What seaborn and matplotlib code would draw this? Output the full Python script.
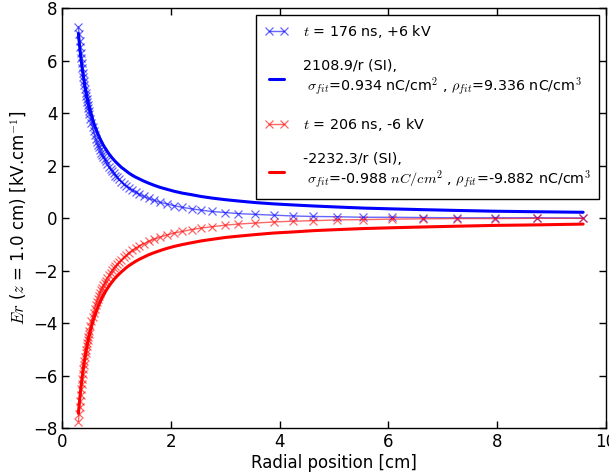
import pandas as pd
import seaborn as sns
import matplotlib.pyplot as plt

radius = [0.30, 0.31, 0.32, 0.33, 0.34, 0.35, 0.36, 0.37, 0.38, 0.39, 0.40,
          0.41, 0.42, 0.43, 0.44, 0.45, 0.46, 0.47, 0.48, 0.49, 0.50,
          0.52, 0.54, 0.56, 0.58, 0.60, 0.62, 0.64, 0.66, 0.68, 0.70,
          0.72, 0.74, 0.76, 0.78, 0.80, 0.83, 0.86, 0.89, 0.92, 0.95,
          0.98, 1.01, 1.05, 1.09, 1.13, 1.18, 1.23, 1.29, 1.35, 1.42,
          1.50, 1.59, 1.69, 1.80, 1.92, 2.06, 2.21, 2.38, 2.56, 2.76,
          3.00, 3.24, 3.55, 3.89, 4.24, 4.62, 5.06, 5.54, 6.06, 6.63,
          7.26, 7.96, 8.73, 9.58]

# Er [kV/cm], t = 176 ns, +6 kV
er_pos = [7.28, 7.01, 6.76, 6.52, 6.30, 6.09, 5.90, 5.71, 5.54, 5.37, 5.21,
          5.06, 4.92, 4.78, 4.65, 4.52, 4.41, 4.29, 4.18, 4.08, 3.98,
          3.79, 3.62, 3.45, 3.30, 3.17, 3.03, 2.91, 2.80, 2.69, 2.59,
          2.49, 2.40, 2.32, 2.24, 2.16, 2.06, 1.96, 1.86, 1.78, 1.70,
          1.62, 1.55, 1.47, 1.39, 1.31, 1.23, 1.15, 1.07, 0.99, 0.91,
          0.83, 0.75, 0.68, 0.60, 0.54, 0.47, 0.41, 0.35, 0.30, 0.25,
          0.21, 0.17, 0.14, 0.11, 0.08, 0.06, 0.05, 0.03, 0.03, 0.02,
          0.01, 0.01, 0.01, 0.00]

# Er [kV/cm], t = 206 ns, -6 kV
er_neg = [-7.75, -7.47, -7.21, -6.97, -6.74, -6.52, -6.31, -6.12, -5.93, -5.76, -5.60,
          -5.44, -5.29, -5.15, -5.01, -4.88, -4.75, -4.64, -4.52, -4.41, -4.31,
          -4.11, -3.93, -3.76, -3.60, -3.45, -3.32, -3.19, -3.07, -2.96, -2.85,
          -2.75, -2.65, -2.56, -2.48, -2.40, -2.29, -2.18, -2.08, -1.99, -1.91,
          -1.83, -1.75, -1.66, -1.58, -1.50, -1.41, -1.32, -1.23, -1.15, -1.07,
          -0.98, -0.89, -0.81, -0.73, -0.65, -0.57, -0.51, -0.44, -0.38, -0.33,
          -0.27, -0.23, -0.19, -0.15, -0.12, -0.10, -0.07, -0.06, -0.04, -0.03,
          -0.02, -0.02, -0.01, -0.01]

# 1/r fits evaluated on the same radii
fit_pos = [7.03, 6.80, 6.59, 6.39, 6.20, 6.03, 5.86, 5.70, 5.55, 5.41, 5.27,
           5.14, 5.02, 4.90, 4.79, 4.69, 4.58, 4.49, 4.39, 4.30, 4.22,
           4.06, 3.91, 3.77, 3.64, 3.51, 3.40, 3.30, 3.20, 3.10, 3.01,
           2.93, 2.85, 2.77, 2.70, 2.64, 2.54, 2.45, 2.37, 2.29, 2.22,
           2.15, 2.09, 2.01, 1.93, 1.87, 1.79, 1.71, 1.63, 1.56, 1.49,
           1.41, 1.33, 1.25, 1.17, 1.10, 1.02, 0.95, 0.89, 0.82, 0.76,
           0.70, 0.65, 0.59, 0.54, 0.50, 0.46, 0.42, 0.38, 0.35, 0.32,
           0.29, 0.26, 0.24, 0.22]
fit_neg = [-7.44, -7.20, -6.98, -6.76, -6.57, -6.38, -6.20, -6.03, -5.87, -5.72, -5.58,
           -5.44, -5.32, -5.19, -5.07, -4.96, -4.85, -4.75, -4.65, -4.56, -4.46,
           -4.29, -4.13, -3.99, -3.85, -3.72, -3.60, -3.49, -3.38, -3.28, -3.19,
           -3.10, -3.02, -2.94, -2.86, -2.79, -2.69, -2.60, -2.51, -2.43, -2.35,
           -2.28, -2.21, -2.13, -2.05, -1.98, -1.89, -1.81, -1.73, -1.65, -1.57,
           -1.49, -1.40, -1.32, -1.24, -1.16, -1.08, -1.01, -0.94, -0.87, -0.81,
           -0.74, -0.69, -0.63, -0.57, -0.53, -0.48, -0.44, -0.40, -0.37, -0.34,
           -0.31, -0.28, -0.26, -0.23]

labels = [
    "$t$ = 176 ns, +6 kV",
    "2108.9/r (SI),\n $\\sigma_{fit}$=0.934 nC/cm$^2$ , $\\rho_{fit}$=9.336 nC/cm$^3$",
    "$t$ = 206 ns, -6 kV",
    "-2232.3/r (SI),\n $\\sigma_{fit}$=-0.988 $nC/cm^2$ , $\\rho_{fit}$=-9.882 nC/cm$^3$",
]

df = pd.DataFrame({"r": radius, "pos": er_pos, "neg": er_neg,
                   "fpos": fit_pos, "fneg": fit_neg})

sns.set_style("ticks")
plt.rcParams["font.family"] = ["DejaVu Sans"]
plt.rcParams["mathtext.fontset"] = "cm"
plt.rcParams["font.size"] = 12
plt.rcParams["text.color"] = "black"
plt.rcParams["axes.labelcolor"] = "black"

fig = plt.figure(figsize=(6.09, 4.73), dpi=100)
ax = fig.add_axes([0.102, 0.095, 0.893, 0.888])

sns.lineplot(data=df, x="r", y="pos", ax=ax, color="blue", marker="x",
             markersize=6, markeredgewidth=0.9, markeredgecolor="blue",
             lw=1, alpha=0.6, label=labels[0])
sns.lineplot(data=df, x="r", y="fpos", ax=ax, color="blue", lw=2.2, label=labels[1])
sns.lineplot(data=df, x="r", y="neg", ax=ax, color="red", marker="x",
             markersize=6, markeredgewidth=0.9, markeredgecolor="red",
             lw=1, alpha=0.6, label=labels[2])
sns.lineplot(data=df, x="r", y="fneg", ax=ax, color="red", lw=2.2, label=labels[3])

ax.set_xlim(0, 10)
ax.set_ylim(-8, 8)
ax.set_xticks([0, 2, 4, 6, 8, 10])
ax.set_yticks([-8, -6, -4, -2, 0, 2, 4, 6, 8])
ax.tick_params(direction="in", top=True, right=True, length=5, width=1,
               labelsize=12, colors="black")
for s in ax.spines.values():
    s.set_color("black")
    s.set_linewidth(1)
ax.set_xlabel("Radial position [cm]", fontsize=12, labelpad=2)
ax.set_ylabel("$Er$ ($z$ = 1.0 cm) [kV.cm$^{-1}$]", fontsize=12, labelpad=3)

leg = ax.legend(loc="upper right", fontsize=10.3, numpoints=2, fancybox=False,
                framealpha=1, edgecolor="black", labelspacing=1.3,
                handlelength=1.7, handletextpad=1.0, borderpad=0.55)
leg.get_frame().set_linewidth(1)

fig.savefig("out.png", dpi=100)
plt.close()
